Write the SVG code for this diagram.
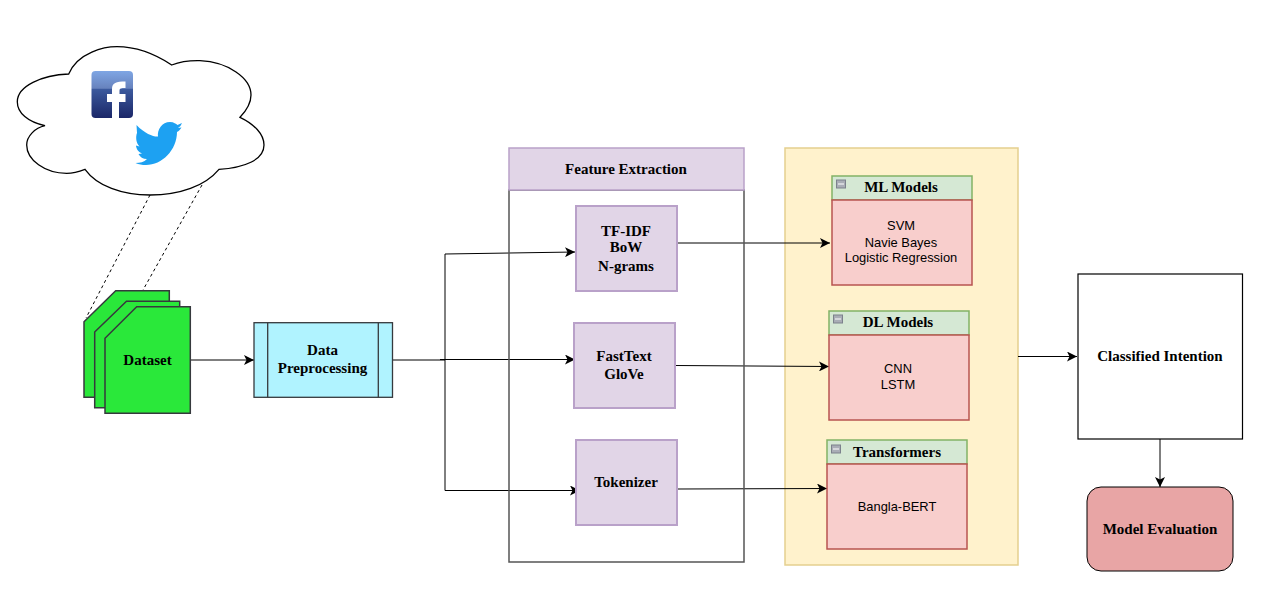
<svg xmlns="http://www.w3.org/2000/svg" width="1268" height="607" viewBox="0 0 1268 607">
<defs>
<marker id="arr" markerUnits="userSpaceOnUse" markerWidth="12" markerHeight="10" refX="10" refY="5" orient="auto"><path d="M0 0 L10 5 L0 10 L2.500 5 Z" fill="#000"/></marker>
<linearGradient id="fb" x1="0" y1="0" x2="0" y2="1"><stop offset="0" stop-color="#7fa6e4"/><stop offset="0.37" stop-color="#6782bd"/><stop offset="0.38" stop-color="#3c5a9e"/><stop offset="1" stop-color="#1b2768"/></linearGradient>
</defs>
<style>
text{font-family:"Liberation Serif",serif;font-weight:700;font-size:15px;text-anchor:middle;fill:#000}
.s{font-family:"Liberation Sans",sans-serif;font-weight:400;font-size:12.9px}
.c{fill:none;stroke:#000;stroke-width:1;marker-end:url(#arr)}
.p{fill:#e1d5e7;stroke:#b9a1c9;stroke-width:2}
.h{fill:#d5e8d4;stroke:#82b366;stroke-width:1.5}
.b{fill:#f8cecc;stroke:#b85450;stroke-width:1.5}
.m{fill:#a9adb6;stroke:#7c818c;stroke-width:1}
.d{fill:#2ae83a;stroke:#36393d;stroke-width:1.5}
</style>
<rect width="1268" height="607" fill="#fff"/>
<g id="cloud">
<path d="M68.700 74 C78 52 105 46.700 117 46.700 C135 46.700 155 54 171.700 65 C182 61 192 60.500 200 60.700 C228 62 251 78 251 95 C251 104 246 111 240 117.300 C254 124 264 134 264 145 C264 160 244 168 219 169.300 C205 186 180 195 150 195 C122 195 97 186 85 169.300 C78 172 72 173.300 66.700 173.300 C45 173.300 26.700 160 26.700 145 C26.700 136 35 128 45 125.700 C28 122 17.300 113 17.300 101.700 C17.300 86 42 75 68.700 74 Z" fill="#fff" stroke="#000" stroke-width="1.300"/>
</g>
<g id="facebook">
<rect x="91.500" y="71" width="41.500" height="47" rx="4" fill="url(#fb)"/>
<path d="M112 118 V102 H107 V94 H112 V89 C112 83 116 81.500 125.500 81.500 V88 C121 88 119.500 88 119.500 91 V94 H125.500 V102 H119 V118 Z" fill="#fff"/>
</g>
<g id="twitter">
<path d="M136.500 125 C145 134 154 137 158 136.500 C157 130 162 122 170 122 C174 122 176 124 177.500 125 L182 123 C181 125 180 127 178 128 L181.500 127.500 C180 129.500 179 131 177 132 C177 150 162 165 146 165 C142 165 139 164.500 135.500 163 C140 163 144 162 147 159 C143 159 140 157 138.500 154 L142 153.500 C138 152 136 148 136 145.500 L139.500 146.500 C136 143 135.500 137 137 133 Z" fill="#1da1f2"/>
</g>
<g id="models">
<rect x="785" y="148" width="233" height="417" fill="#fff2cc" stroke="#e5cf8f" stroke-width="1.500"/>
</g>
<g id="connectors">
<path d="M150 195 L86 318" fill="none" stroke="#000" stroke-dasharray="3 3"/>
<path d="M202 185 L143 290" fill="none" stroke="#000" stroke-dasharray="3 3"/>
<path class="c" d="M190.500 360 H254"/>
<path class="c" d="M392.500 360 H445 M440 359.500 H575"/>
<path class="c" d="M445 359.500 V254 L575 252"/>
<path class="c" d="M445 359.500 V490.500 H580"/>
<path class="c" d="M678 243 H830"/>
<path class="c" d="M675 365.500 L829 366.500"/>
<path class="c" d="M678 489 L827 488.500"/>
<path class="c" d="M1018 356.500 H1077"/>
<path class="c" d="M1160 439 V487"/>
</g>
<g id="dataset">
<path class="d" d="M84 321.700 L115.700 290.700 H169.300 V397.300 H84 Z"/>
<path class="d" d="M94.700 332 L126.500 301.300 H179.700 V407.700 H94.700 Z"/>
<path class="d" d="M105 338.300 L136.700 306.700 H190.300 V413.300 H105 Z"/>
<text x="147.500" y="365">Dataset</text>
</g>
<g id="preprocessing">
<rect x="254" y="322.700" width="138.500" height="74.600" fill="#b0f3ff" stroke="#36393d" stroke-width="1.300"/>
<path d="M267.700 322.700 V397.300 M378.300 322.700 V397.300" stroke="#36393d" stroke-width="1.300" fill="none"/>
<text x="322.500" y="355">Data</text>
<text x="322.500" y="373">Preprocessing</text>
</g>
<g id="feature-extraction">
<rect x="509" y="190" width="235" height="372" fill="none" stroke="#555" stroke-width="1.500"/>
<rect x="509" y="148" width="235" height="42" class="p" style="stroke-width:1.500"/>
<text x="626" y="174">Feature Extraction</text>
</g>
<g id="tfidf">
<rect class="p" x="576" y="206" width="101" height="85"/>
<text x="626" y="236">TF-IDF</text>
<text x="626" y="252">BoW</text>
<text x="626" y="271">N-grams</text>
</g>
<g id="fasttext">
<rect class="p" x="574" y="323" width="101" height="85"/>
<text x="624" y="361">FastText</text>
<text x="624" y="379">GloVe</text>
</g>
<g id="tokenizer">
<rect class="p" x="576" y="440" width="101" height="85"/>
<text x="626" y="487">Tokenizer</text>
</g>
<g id="ml-models">
<rect class="h" x="832" y="176" width="140" height="24"/>
<rect class="b" x="832" y="200" width="140" height="85"/>
<rect class="m" x="836.500" y="180" width="9" height="8"/><path d="M838 184 H844" stroke="#fff"/>
<text x="901" y="192">ML Models</text>
<text class="s" x="901" y="230">SVM</text>
<text class="s" x="901" y="247">Navie Bayes</text>
<text class="s" x="901" y="262">Logistic Regression</text>
</g>
<g id="dl-models">
<rect class="h" x="829" y="311" width="140" height="24"/>
<rect class="b" x="829" y="335" width="140" height="85"/>
<rect class="m" x="833.500" y="315" width="9" height="8"/><path d="M835 319 H841" stroke="#fff"/>
<text x="898" y="327">DL Models</text>
<text class="s" x="898" y="373">CNN</text>
<text class="s" x="898" y="389">LSTM</text>
</g>
<g id="transformers">
<rect class="h" x="827" y="440" width="140" height="24"/>
<rect class="b" x="827" y="464" width="140" height="85"/>
<rect class="m" x="831.500" y="445" width="9" height="8"/><path d="M833 449 H839" stroke="#fff"/>
<text x="897" y="457">Transformers</text>
<text class="s" x="897" y="511">Bangla-BERT</text>
</g>
<g id="classified">
<rect x="1078" y="274" width="164.500" height="165" fill="#fff" stroke="#000" stroke-width="1.200"/>
<text x="1160" y="361">Classified Intention</text>
</g>
<g id="evaluation">
<rect x="1087" y="487" width="146" height="84" rx="14" fill="#e8a5a5" stroke="#000" stroke-width="1"/>
<text x="1160" y="534">Model Evaluation</text>
</g>
</svg>
